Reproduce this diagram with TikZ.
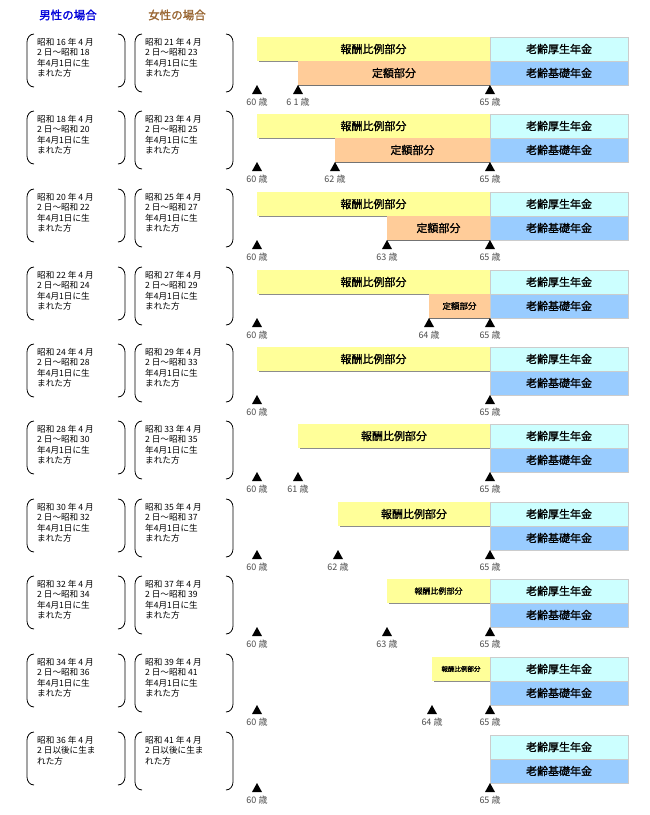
\documentclass[tikz,border=0pt]{standalone}
\usepackage{fontspec}
\setmainfont{Noto Sans CJK JP}
\newfontfamily\jpb[FakeBold=1.2]{Noto Sans CJK JP}
\newfontfamily\jpser{Noto Sans CJK JP}
\begin{document}
\begin{tikzpicture}[x=1pt,y=-1pt,
  yel/.style={fill={rgb,255:red,255;green,255;blue,153},draw=none},
  ora/.style={fill={rgb,255:red,255;green,204;blue,153}},
  cya/.style={fill={rgb,255:red,204;green,255;blue,255}},
  blu/.style={fill={rgb,255:red,153;green,204;blue,255}},
  barlbl/.style={font=\fontsize{11}{11}\selectfont\jpb},
  agelbl/.style={font=\fontsize{9}{9}\selectfont, text=black!70},
  tri/.style={fill=black},
  txt/.style={font=\fontsize{8.6}{10.5}\selectfont, align=left, anchor=north west, inner sep=0pt}]
\useasboundingbox (0,0) rectangle (650,815);
\node[font=\fontsize{11.5}{11}\selectfont\jpb, text=blue!85!black] (hm) at (68,15) {男性の場合};
\node[font=\fontsize{11.5}{11}\selectfont\jpb, text=brown!80!black] (hf) at (177,15) {女性の場合};
\newcommand{\brk}[3]{%
  \draw[line width=0.8pt] (#1+7,#3) to[out=180,in=90] (#1,#3+8) -- (#1,#2-8) to[out=-90,in=180] (#1+7,#2);
  \draw[line width=0.8pt] (#1+91,#3) to[out=0,in=90] (#1+98,#3+8) -- (#1+98,#2-8) to[out=-90,in=0] (#1+91,#2);}
\newcommand{\tria}[3]{%
  \fill[tri] (#1-5,#2+57) -- (#1,#2+48) -- (#1+5,#2+57) -- cycle;
  \node[agelbl] at (#1,#2+65) {#3};}
\newcommand{\rightboxes}[1]{%
  \draw[cya, draw=black!20] (490,#1) rectangle (628,#1+24);
  \node[barlbl] at (559,#1+12) {老齢厚生年金};
  \draw[blu, draw=black!20] (490,#1+24) rectangle (628,#1+48);
  \node[barlbl] at (559,#1+36) {老齢基礎年金};}
\newcommand{\rowtext}[3]{%
  \brk{27}{#1+50}{#1-3}
  \brk{135}{#1+55}{#1-3}
  \node[txt] at (37,#1+1) {#2};
  \node[txt] at (145,#1+1) {#3};}
\foreach \t/\m/\f/\ys/\os/\oa/\ofs in {
 37/{昭和 16 年 4 月\\2 日～昭和 18\\年4月1日に生\\まれた方}/{昭和 21 年 4 月\\2 日～昭和 23\\年4月1日に生\\まれた方}/257/298/{6 1 歳}/11,
 114/{昭和 18 年 4 月\\2 日～昭和 20\\年4月1日に生\\まれた方}/{昭和 23 年 4 月\\2 日～昭和 25\\年4月1日に生\\まれた方}/257/335/{62 歳}/11,
 192/{昭和 20 年 4 月\\2 日～昭和 22\\年4月1日に生\\まれた方}/{昭和 25 年 4 月\\2 日～昭和 27\\年4月1日に生\\まれた方}/257/387/{63 歳}/11,
 270/{昭和 22 年 4 月\\2 日～昭和 24\\年4月1日に生\\まれた方}/{昭和 27 年 4 月\\2 日～昭和 29\\年4月1日に生\\まれた方}/257/429/{64 歳}/8.5}
{
  \rowtext{\t}{\m}{\f}
  \fill[yel] (\ys,\t) rectangle (490,\t+24);
  \draw[black!45] (\ys+2,\t+24) -- (490,\t+24);
  \draw[ora, draw=none] (\os,\t+24) rectangle (490,\t+48);
  \draw[black!55] (\os,\t+48) -- (490,\t+48);
  \node[barlbl] at ({(\ys+490)/2},\t+12) {報酬比例部分};
  \node[font=\fontsize{\ofs}{\ofs}\selectfont\jpb] at ({(\os+490)/2},\t+36) {定額部分};
  \rightboxes{\t}
  \tria{257}{\t}{60 歳}
  \tria{\os}{\t}{\oa}
  \tria{490}{\t}{65 歳}
}
\foreach \t/\m/\f/\ys/\sa/\fs in {
 347/{昭和 24 年 4 月\\2 日～昭和 28\\年4月1日に生\\まれた方}/{昭和 29 年 4 月\\2 日～昭和 33\\年4月1日に生\\まれた方}/257/{}/11,
 424/{昭和 28 年 4 月\\2 日～昭和 30\\年4月1日に生\\まれた方}/{昭和 33 年 4 月\\2 日～昭和 35\\年4月1日に生\\まれた方}/298/{61 歳}/11,
 502/{昭和 30 年 4 月\\2 日～昭和 32\\年4月1日に生\\まれた方}/{昭和 35 年 4 月\\2 日～昭和 37\\年4月1日に生\\まれた方}/338/{62 歳}/11,
 579/{昭和 32 年 4 月\\2 日～昭和 34\\年4月1日に生\\まれた方}/{昭和 37 年 4 月\\2 日～昭和 39\\年4月1日に生\\まれた方}/387/{63 歳}/8,
 657/{昭和 34 年 4 月\\2 日～昭和 36\\年4月1日に生\\まれた方}/{昭和 39 年 4 月\\2 日～昭和 41\\年4月1日に生\\まれた方}/432/{64 歳}/6.5}
{
  \rowtext{\t}{\m}{\f}
  \fill[yel] (\ys,\t) rectangle (490,\t+24);
  \draw[black!45] (\ys+2,\t+24) -- (490,\t+24);
  \node[font=\fontsize{\fs}{\fs}\selectfont\jpb] at ({(\ys+490)/2},\t+12) {報酬比例部分};
  \rightboxes{\t}
  \tria{257}{\t}{60 歳}
  \ifnum\ys>257 \tria{\ys}{\t}{\sa}\fi
  \tria{490}{\t}{65 歳}
}
\rowtext{735}{昭和 36 年 4 月\\2 日以後に生ま\\れた方}{昭和 41 年 4 月\\2 日以後に生ま\\れた方}
\rightboxes{735}
\tria{257}{735}{60 歳}
\tria{490}{735}{65 歳}
\end{tikzpicture}
\end{document}
